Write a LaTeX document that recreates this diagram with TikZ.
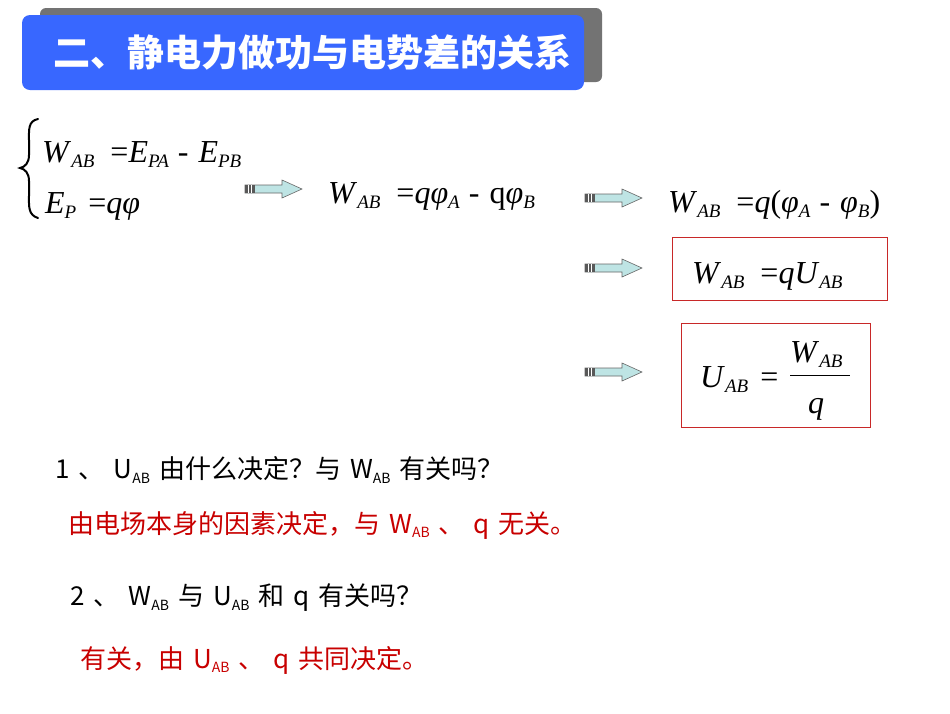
\documentclass[tikz,border=0pt]{standalone}
\usepackage{fontspec}
\setmainfont{Liberation Serif}
\newfontfamily\cjk{Noto Sans CJK SC}
\newfontfamily\cjkb{Noto Sans CJK SC Black}
\definecolor{tblue}{RGB}{56,103,255}
\definecolor{ared}{RGB}{200,0,0}
\definecolor{bred}{RGB}{200,40,40}
\definecolor{acyan}{RGB}{190,228,228}
\newcommand{\V}[1]{\textit{#1}}
\newcommand{\Sb}[1]{\raisebox{-0.35ex}{\fontsize{19}{19}\selectfont\textit{#1}}}
\newcommand{\Sn}[1]{\raisebox{-0.3ex}{\fontsize{14}{14}\selectfont #1}}
\newcommand{\Eq}{\hspace{16pt}=}
\newcommand{\Mi}{\hspace{9pt}-\hspace{10pt}}
\newcommand{\G}{\hspace{9pt}}
\tikzset{
  eq/.style={anchor=base west,inner sep=0pt,font=\fontsize{32}{32}\selectfont},
  q/.style={anchor=west,inner sep=0pt,font=\fontsize{26}{26}\selectfont},
  ans/.style={q,text=ared},
  rbox/.style={draw=bred,line width=0.8pt},
  arr/.pic={
    \draw[gray!80!black,fill=acyan,line width=0.6pt]
      (0,-4)--(37,-4)--(37,-9)--(57,0)--(37,9)--(37,4)--(0,4)--cycle;
    \fill[gray!70!black] (0,-4) rectangle (10,4);
    \draw[white,line width=0.6pt] (3,-4)--(3,4) (6,-4)--(6,4);
  }
}
\begin{document}
\begin{tikzpicture}[x=1pt,y=-1pt]
\useasboundingbox (0,0) rectangle (950,713);
\fill[white] (0,0) rectangle (950,713);
% title
\fill[gray!90!black,rounded corners=6pt] (40,8) rectangle (602,82);
\fill[tblue,rounded corners=8pt] (22,15) rectangle (584,90);
\node[text=white,font=\cjkb\fontsize{37}{37}\selectfont] (title) at (312,52) {二、静电力做功与电势差的关系};
% brace system
\coordinate (bt) at (38,119);
\coordinate (bm) at (20,168);
\coordinate (bb) at (38,218);
\draw[line width=2pt,line cap=round] (bt) .. controls (28,121) and (29,130) .. (29,140) -- (29,155) .. controls (29,163) and (25,167) .. (bm) .. controls (25,169) and (29,173) .. (29,181) -- (29,196) .. controls (29,206) and (28,215) .. (bb);
\node[eq] (e1) at (42,162) {\V{W}\Sb{AB}\Eq\V{E}\Sb{PA}\Mi\V{E}\Sb{PB}};
\node[eq] (e2) at (45,213) {\V{E}\Sb{P}\hspace{12pt}=\V{q}\V{φ}};
\pic at (245,189) {arr};
\node[eq] (e3) at (328,203) {\V{W}\Sb{AB}\Eq\V{q}\V{φ}\Sb{A}\Mi q\V{φ}\Sb{B}};
\pic at (585,198) {arr};
\node[eq] (e4) at (668,212) {\V{W}\Sb{AB}\Eq\V{q}(\V{φ}\Sb{A}\Mi\V{φ}\Sb{B})};
\pic at (585,268) {arr};
\draw[rbox] (672,237) rectangle (887,300);
\node[eq] (e5) at (692,283) {\V{W}\Sb{AB}\Eq\V{q}\V{U}\Sb{AB}};
\pic at (585,372) {arr};
\draw[rbox] (681,323) rectangle (870,427);
\node[eq] (e6) at (700,387) {\V{U}\Sb{AB}\hspace{12pt}=};
\node[eq] (fn) at (790,362) {\V{W}\Sb{AB}};
\draw[line width=0.8pt] (fn.west |- 0,375) -- (850,375);
\node[eq] (fd) at (808,413) {\V{q}};
% questions
\node[q] (q1) at (55,470) {\cjk 1\G、\G U\Sn{AB}\G 由什么决定？与\G W\Sn{AB}\G 有关吗？};
\node[ans] (a1) at (68,525) {\cjk 由电场本身的因素决定，与\G W\Sn{AB}\G 、\G q\G 无关。};
\node[q] (q2) at (70,598) {\cjk 2\G、\G W\Sn{AB}\G 与\G U\Sn{AB}\G 和\G q\G 有关吗？};
\node[ans] (a2) at (80,660) {\cjk 有关，由\G U\Sn{AB}\G 、\G q\G 共同决定。};
\end{tikzpicture}
\end{document}
